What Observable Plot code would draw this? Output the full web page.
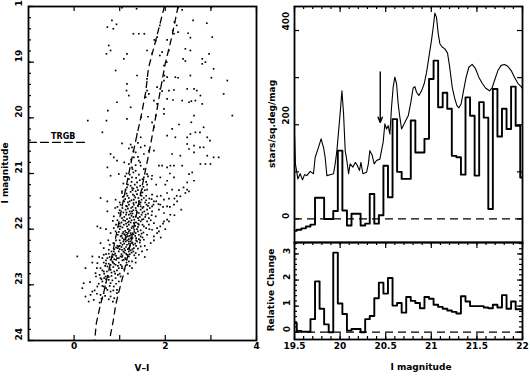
<!DOCTYPE html>
<html><head><meta charset="utf-8">
<script src="https://cdn.jsdelivr.net/npm/d3@7"></script>
<script src="https://cdn.jsdelivr.net/npm/@observablehq/plot@0.6"></script>
<style>
html,body{margin:0;padding:0;background:#fff;}
#chart{position:relative;width:530px;height:376px;overflow:hidden;background:#fff;}
#chart svg{position:absolute;}
</style></head><body><div id="chart"></div>
<script>
// ---------- Left panel: colour-magnitude diagram (V-I, I) ----------
const stars = [
[1.05,18.02],[1.37,18.04],[2.28,18.02],[2.37,18.06],[3.01,18.02],[0.83,18.25],[0.93,18.32],[0.86,18.40],[0.73,18.37],[2.20,18.28],[2.25,18.34],[2.17,18.43],[2.61,18.25],[2.91,18.30],[1.88,18.34],[1.82,18.55],[1.30,18.49],[1.42,18.49],[1.54,18.49],[1.76,18.60],[1.79,18.62],[2.19,18.49],[2.28,18.46],[2.50,18.48],[2.55,18.56],[3.03,18.55],[2.04,18.60],[0.76,18.70],[0.71,18.85],[0.80,18.79],[1.60,18.79],[1.71,18.84],[1.88,18.88],[1.93,18.82],[2.08,18.79],[2.03,19.00],[1.97,19.06],[1.16,18.85],[1.09,18.94],[2.44,18.76],[2.55,18.79],[2.39,18.94],[2.44,18.98],[2.81,18.94],[2.88,19.00],[2.96,18.85],[3.06,19.12],[2.81,19.03],[0.91,19.15],[1.38,19.24],[1.60,19.30],[1.82,19.45],[1.98,19.24],[2.04,19.27],[1.97,19.33],[2.22,19.27],[2.28,19.28],[2.55,19.24],[3.01,19.28],[3.36,19.33],[1.16,19.39],[1.15,19.51],[1.60,19.51],[1.64,19.57],[1.89,19.48],[1.93,19.52],[2.08,19.51],[2.19,19.50],[2.48,19.48],[2.63,19.48],[2.69,19.51],[3.28,19.57],[1.20,19.60],[1.57,19.63],[1.75,19.69],[1.82,19.75],[2.04,19.66],[2.17,19.68],[2.37,19.69],[2.52,19.72],[2.57,19.70],[2.66,19.69],[2.77,19.60],[2.81,19.75],[0.74,19.87],[0.94,19.72],[1.24,19.81],[1.97,19.84],[0.30,20.05],[0.71,20.05],[1.16,20.02],[1.47,19.99],[1.62,19.98],[1.79,19.96],[1.71,20.08],[1.75,20.17],[1.97,19.93],[2.15,20.20],[2.30,20.12],[2.57,20.08],[2.63,19.96],[3.47,19.96],[2.84,20.17],[0.62,20.26],[1.05,20.46],[1.24,20.48],[1.38,20.29],[1.46,20.35],[2.04,20.32],[2.22,20.35],[2.48,20.35],[2.55,20.29],[2.66,20.26],[2.76,20.26],[2.92,20.35],[2.98,20.41],[2.48,20.47],[2.63,20.50],[0.80,20.65],[0.87,20.71],[1.27,20.53],[1.35,20.62],[1.46,20.53],[1.53,20.65],[1.64,20.59],[1.75,20.59],[2.15,20.65],[2.33,20.68],[2.52,20.56],[2.63,20.62],[2.76,20.53],[2.84,20.53],[2.92,20.68],[3.06,20.71],[3.17,20.71],[0.94,20.77],[1.31,20.71],[1.42,20.77],[0.73,20.89],[0.80,21.04],[0.98,21.01],[1.20,20.83],[1.27,20.89],[1.35,20.95],[1.46,20.86],[1.53,20.92],[1.60,21.01],[1.86,20.86],[1.93,20.86],[2.04,20.89],[2.11,20.86],[2.19,20.86],[2.37,20.86],[2.52,21.01],[2.59,20.98],[2.77,20.83],[2.88,20.83],[2.99,20.83],[1.27,21.07],[1.38,21.16],[1.53,21.07],[1.71,21.04],[1.89,21.07],[2.04,21.13],[2.19,21.07],[2.48,21.16],[2.63,21.13],[1.24,21.22],[1.38,21.25],[1.49,21.28],
[1.20,20.55],[1.30,20.60],[1.40,20.70],[1.45,20.80],[1.25,20.75],[1.35,20.85],[1.30,20.98],[1.42,21.02],[1.50,21.10],[1.20,21.10],[1.33,21.20],[1.45,21.22],[1.55,20.50],[1.40,20.45],[1.28,20.92],[1.15,21.00],[1.10,20.80],
[1.13,21.29],[1.27,21.26],[1.35,21.32],[1.46,21.35],[1.60,21.29],[1.71,21.38],[1.09,21.41],[1.20,21.44],[1.31,21.47],[1.42,21.50],[1.53,21.44],[1.64,21.53],[1.82,21.41],[1.97,21.47],[2.04,21.35],[2.15,21.29],[2.33,21.41],[2.44,21.35],[2.52,21.32],[2.48,21.29],[0.58,21.44],[0.73,21.50],[0.91,21.47],[1.02,21.56],[1.16,21.59],[1.31,21.56],[1.46,21.59],[1.59,21.56],[1.71,21.59],[1.89,21.56],[2.04,21.59],[2.19,21.56],[2.26,21.50],[0.73,21.68],[0.87,21.77],[0.98,21.71],[1.05,21.80],[1.13,21.65],[1.20,21.74],[1.27,21.68],[1.35,21.77],[1.42,21.71],[1.49,21.83],[1.57,21.74],[1.64,21.80],[1.71,21.68],[1.79,21.77],[1.86,21.65],[1.97,21.71],[2.11,21.74],[2.04,21.83],[1.75,21.89],[1.82,21.98],[1.89,21.95],[1.64,21.92],[1.53,21.95],[1.42,21.92],[1.31,21.89],[1.20,21.86],[1.09,21.92],[0.98,21.95],[0.87,21.98],[0.51,21.95],[0.58,21.98],[1.71,22.01],[1.86,22.04],[1.97,21.86],[2.08,21.86],[0.80,22.07],[0.91,22.04],[1.02,22.13],[1.09,22.19],[1.13,22.22],[1.16,22.10],[1.24,22.16],[1.27,22.25],[1.35,22.07],[1.38,22.22],[1.46,22.13],[1.53,22.19],[1.60,22.10],[1.68,22.25],[1.75,22.13],[1.82,22.07],[1.16,22.28],[1.31,22.34],[1.46,22.31],[1.60,22.37],[0.58,22.25],[0.65,22.34],[0.76,22.37],[0.87,22.40],[0.98,22.31],[1.05,22.37],[1.20,22.40],[1.35,22.43],[1.49,22.40],[1.20,22.22],[1.13,22.16],[0.07,22.49],[0.40,22.49],[0.51,22.61],[0.65,22.46],[0.73,22.52],[0.80,22.55],[0.87,22.46],[0.94,22.52],[1.02,22.49],[1.09,22.55],[1.20,22.49],[1.27,22.58],[1.35,22.52],[1.42,22.46],[0.58,22.70],[0.65,22.76],[0.73,22.67],[0.80,22.73],[0.91,22.64],[0.98,22.70],[1.05,22.67],[1.16,22.64],[1.27,22.70],[0.25,22.70],[0.47,22.79],[0.58,22.88],[0.62,22.94],[0.69,22.85],[0.76,22.91],[0.80,22.97],[0.87,23.03],[0.91,22.88],[0.98,22.94],[1.02,22.85],[0.65,23.03],[0.51,23.03],[0.21,22.97],[0.18,23.06],[0.73,23.09],[0.80,23.12],[0.94,23.09],[0.25,23.21],[0.32,23.30],[0.58,23.18],[0.65,23.15],[0.80,23.21],[0.94,23.15],[0.43,23.27],
[1.10,21.50],[1.18,21.52],[1.25,21.62],[1.35,21.62],[1.40,21.80],[1.22,21.80],[1.12,21.85],[1.28,21.95],[1.38,22.00],[1.18,22.00],[1.08,22.05],[1.25,22.10],[1.30,22.28],[1.40,22.35],[1.10,22.35],[1.22,22.45],[1.15,22.60],[1.05,22.50],[0.95,22.30],[1.00,22.20],[1.45,22.20],[1.55,22.30],[1.50,21.70],[1.60,21.65],[1.70,21.75],[1.65,21.45],[1.75,21.50],[1.85,21.55],[1.95,21.60],[2.10,21.60],[2.20,21.45],[2.30,21.30],[2.40,21.25],[1.55,21.30],[1.05,21.35],[0.95,21.60],[0.85,21.85],[0.70,22.00],[0.75,22.20],[0.65,22.60],[0.55,22.50],[0.85,22.60],[1.00,22.80],[0.90,22.80],[0.70,22.90],[0.45,23.10],[0.60,23.25],[0.40,22.60],[0.35,22.95],[0.85,23.30],[1.55,22.50],[1.65,22.00],[1.75,22.20],[1.90,22.15],[2.00,22.00],[1.95,21.90],[2.20,21.75],[2.35,21.65],[1.02,21.95],[1.15,21.70],[1.32,21.40],[1.48,21.40],[1.28,21.30],[1.18,21.20],[1.60,21.20],[1.70,21.10],[1.80,21.20],[2.00,21.20],[2.10,21.00],[1.05,22.70],[1.12,22.38],[1.35,22.60],[1.18,22.80],
[1.12,21.05],[1.22,21.02],[1.36,21.08],[1.44,21.12],[1.58,21.15],[1.26,21.15],[1.16,21.25],[1.30,21.27],[1.52,21.24],[1.40,21.30],[1.62,21.05],[1.08,21.18],
[1.05,21.32],[1.15,21.36],[1.24,21.33],[1.38,21.37],[1.50,21.34],[1.58,21.40],[1.12,21.46],[1.26,21.48],[1.36,21.52],[1.48,21.47],[1.56,21.52],[1.70,21.46],[1.80,21.50],[1.90,21.40],[2.08,21.45],[2.25,21.40],[1.00,21.52],[1.20,21.56],[1.40,21.58],[1.52,21.60],[1.62,21.58],[1.34,21.43],[1.44,21.55],[1.74,21.56],
[0.90,21.62],[1.00,21.66],[1.08,21.70],[1.18,21.63],[1.24,21.72],[1.30,21.66],[1.38,21.70],[1.46,21.65],[1.54,21.68],[1.62,21.72],[1.10,21.78],[1.16,21.82],[1.26,21.76],[1.32,21.83],[1.44,21.78],[1.52,21.82],[1.60,21.86],[1.68,21.84],[0.95,21.84],[1.04,21.88],[1.14,21.90],[1.24,21.88],[1.36,21.88],[1.46,21.86],[1.28,21.72],
[0.92,21.92],[1.00,22.00],[1.06,21.97],[1.12,22.03],[1.16,21.95],[1.22,22.02],[1.26,21.98],[1.32,22.05],[1.40,21.96],[1.46,22.02],[1.52,22.06],[1.58,21.98],[0.96,22.10],[1.04,22.12],[1.10,22.09],[1.14,22.14],[1.18,22.07],[1.22,22.12],[1.28,22.16],[1.34,22.12],[1.42,22.10],[1.50,22.15],[1.20,22.18],[1.12,22.18],[1.08,22.22],[1.16,22.20],[1.24,22.22],[1.36,22.20],[1.44,22.24],[1.02,22.25],[1.18,22.13],[1.14,22.06],
[0.78,22.28],[0.86,22.25],[0.92,22.33],[1.00,22.30],[1.06,22.28],[1.14,22.32],[1.22,22.30],[1.28,22.36],[1.36,22.30],[0.82,22.40],[0.90,22.44],[0.98,22.40],[1.04,22.45],[1.10,22.42],[1.16,22.46],[1.26,22.42],[1.32,22.47],[0.70,22.45],[1.00,22.36],[1.18,22.36],
[0.62,22.52],[0.70,22.56],[0.78,22.50],[0.84,22.58],[0.92,22.55],[0.98,22.60],[1.06,22.56],[1.12,22.52],[1.20,22.58],[0.68,22.66],[0.76,22.62],[0.86,22.68],[0.94,22.74],[1.02,22.64],[1.10,22.72],[0.72,22.76],[0.82,22.78],[0.50,22.70],[1.22,22.66],
[0.48,22.85],[0.56,22.82],[0.66,22.88],[0.74,22.84],[0.84,22.92],[0.92,22.98],[0.54,22.98],[0.62,23.02],[0.70,23.06],[0.78,23.02],[0.86,23.10],[0.40,23.12],[0.50,23.16],[0.68,23.20],[0.76,23.26],[0.56,23.32],[0.88,23.24],[0.36,23.18],
[1.07,21.42],[1.17,21.40],[1.29,21.38],[1.41,21.44],[1.22,21.50],[1.30,21.53],[1.46,21.52],[1.14,21.58],[1.28,21.60],[1.36,21.66],[1.50,21.62],[1.06,21.62],[1.22,21.68],[1.66,21.62],[1.58,21.48],
[1.02,21.74],[1.14,21.74],[1.20,21.92],[1.30,21.78],[1.34,21.94],[1.42,21.84],[1.48,21.74],[1.56,21.78],[1.08,21.84],[1.18,21.88],[1.26,21.84],[1.40,21.90],[1.50,21.92],[1.00,21.90],
[0.98,22.05],[1.06,22.08],[1.12,22.11],[1.20,22.04],[1.24,22.07],[1.30,22.09],[1.36,22.16],[1.40,22.04],[1.48,22.08],[1.10,22.26],[1.20,22.26],[1.28,22.24],[1.34,22.26],[0.92,22.20],[1.06,22.16],[1.26,22.19],[1.32,22.01],[1.42,22.18],
[0.88,22.36],[0.96,22.34],[1.04,22.32],[1.08,22.40],[1.14,22.44],[1.20,22.34],[1.24,22.38],[0.84,22.50],[0.92,22.48],[0.98,22.52],[1.06,22.48],[1.14,22.54],[0.76,22.44],[0.88,22.54],[1.30,22.40],
[0.70,22.62],[0.80,22.64],[0.88,22.62],[0.96,22.66],[0.62,22.74],[0.78,22.70],[0.88,22.76],[0.66,22.80],[0.76,22.86],[0.60,22.90],[0.70,22.96],[0.82,22.84],[0.96,22.82]
];
// two dashed ridge lines [V-I, I]
const ridgeBlue = [[1.98,18.0],[1.79,18.61],[1.63,19.11],[1.57,19.54],[1.46,20.01],[1.38,20.30],[1.25,20.8],[1.10,21.4],[0.95,22.0],[0.80,22.6],[0.66,23.1],[0.56,23.42],[0.49,23.68],[0.45,24.0]];
const ridgeRed = [[2.28,18.0],[2.15,18.52],[2.00,19.02],[1.89,19.51],[1.79,19.98],[1.65,20.6],[1.50,21.2],[1.35,21.8],[1.20,22.4],[1.07,22.85],[0.97,23.16],[0.91,23.37],[0.86,23.64],[0.80,23.89],[0.78,24.0]];
const trgbMag = 20.44;
const trgbLine = [[-1, trgbMag], [0.27, trgbMag]];
const trgbLabel = [{vi: -0.24, mag: 20.33, text: "TRGB"}];
const cmdYTicks = [18, 19, 20, 21, 22, 23, 24];
const cmdXTicks = [0, 2, 4];
const cmdXMinor = [0, 1, 2, 3, 4];

// ---------- Right panels: luminosity function ----------
const binI = [19.50,19.55,19.60,19.65,19.70,19.75,19.80,19.85,19.90,19.95,20.00,20.05,20.10,20.15,20.20,20.25,20.30,20.35,20.40,20.45,20.50,20.55,20.60,20.65,20.70,20.75,20.80,20.85,20.90,20.95,21.00,21.05,21.10,21.15,21.20,21.25,21.30,21.35,21.40,21.45,21.50,21.55,21.60,21.65,21.70,21.75,21.80,21.85,21.90,21.95,22.00];
const lfHist = [-25,-23,-20,-16,-12,45,45,0,0,17,145,18,-14,11,11,-14,-10,53,-10,8,113,46,212,100,85,85,209,141,141,170,297,336,237,268,234,134,131,94,258,219,92,248,215,21,276,175,234,191,281,198,88];
const lfSmoothI = [19.500,19.510,19.537,19.562,19.588,19.610,19.635,19.672,19.708,19.727,19.763,19.792,19.818,19.836,19.855,19.891,19.928,19.946,19.965,20.000,20.020,20.038,20.056,20.074,20.093,20.110,20.140,20.166,20.184,20.213,20.228,20.250,20.290,20.310,20.326,20.352,20.374,20.399,20.436,20.472,20.491,20.509,20.527,20.546,20.564,20.582,20.600,20.619,20.637,20.655,20.674,20.703,20.728,20.747,20.776,20.801,20.820,20.838,20.864,20.893,20.922,20.948,20.973,21.002,21.021,21.039,21.057,21.076,21.094,21.119,21.149,21.178,21.200,21.229,21.254,21.280,21.302,21.327,21.353,21.382,21.412,21.448,21.485,21.521,21.558,21.594,21.638,21.667,21.693,21.730,21.766,21.803,21.839,21.876,21.912,21.949,21.985,22.000];
const lfSmoothV = [180,117,85,96,83,94,92,101,96,131,152,170,152,131,92,94,96,117,145,223,272,223,145,124,96,117,110,120,115,103,120,96,99,117,145,135,117,124,127,163,202,191,198,180,237,280,301,287,244,216,191,202,212,219,248,278,281,269,262,272,287,311,343,379,407,437,428,393,372,365,361,352,325,280,258,241,236,244,272,301,322,328,319,301,288,278,272,278,294,315,326,328,324,315,301,288,281,277];
const relChange = [0.35,0.05,0.02,0.02,0.5,1.95,0.9,0.3,0,3.05,1.1,0.7,0.06,0.12,0.12,0,0.5,0.62,1.3,1.9,1.48,2.08,1.02,1.12,0.75,1.35,1.2,1.12,0.92,1.35,1.28,1.05,0.97,0.9,0.83,0.78,0.72,1.38,1.18,1.0,1.0,1.0,0.95,0.92,1.05,0.95,1.42,0.9,1.18,0.88,0.88];
const trgbArrow = [{I: 20.44, from: 312, to: 205}];
const lfXTicks = [19.5, 20, 20.5, 21, 21.5, 22];
const lfXLabels = ["19.5", "20", "20.5", "21", "21.5", "22"];
const lfYTicks = [0, 200, 400];
const relYTicks = [0, 1, 2, 3];
const titles = {cmdX: "V\u2013I", cmdY: "I magnitude", lfY: "stars/sq.deg/mag", relY: "Relative Change", lfX: "I magnitude"};

// ---------- drawing helpers ----------
const FONT = "'DejaVu Sans', sans-serif";
const style = {fontFamily: FONT, fontSize: "9px", fontWeight: "bold", background: "transparent", color: "black", overflow: "visible"};
function tX(values, frameH, len, side) {
  return Plot.tickX(values, {x: d => d, stroke: "black", strokeWidth: 1.2,
    insetTop: side === "bottom" ? frameH - len : 0, insetBottom: side === "top" ? frameH - len : 0});
}
function tY(values, frameW, len, side) {
  return Plot.tickY(values, {y: d => d, stroke: "black", strokeWidth: 1.2,
    insetRight: side === "left" ? frameW - len : 0, insetLeft: side === "right" ? frameW - len : 0});
}
const step = (a, b, s) => d3.range(Math.round((b - a) / s) + 1).map(k => +(a + k * s).toFixed(3));

const chart = document.getElementById("chart");
function place(svg, left, top) { svg.style.left = left + "px"; svg.style.top = top + "px"; chart.appendChild(svg); }
function title(svg, x, y, text, rotate = 0) {
  d3.select(svg).append("text")
    .attr("transform", `translate(${x},${y}) rotate(${rotate})`)
    .attr("text-anchor", "middle").attr("dy", "0.35em")
    .attr("font-family", FONT).attr("font-size", 9).attr("font-weight", "bold").attr("fill", "black")
    .text(text);
}

// Left panel
const cmd = Plot.plot({
  width: 262, height: 376, marginLeft: 28, marginRight: 6, marginTop: 6, marginBottom: 36,
  style,
  x: {domain: [-1, 4], axis: null},
  y: {domain: [18, 24], reverse: true, axis: null},
  marks: [
    Plot.dot(stars, {x: d => d[0], y: d => d[1], r: 0.95, symbol: "square", fill: "black", stroke: null, clip: true}),
    Plot.line(ridgeBlue, {x: d => d[0], y: d => d[1], stroke: "black", strokeWidth: 1.3, strokeDasharray: "6,5", clip: true}),
    Plot.line(ridgeRed, {x: d => d[0], y: d => d[1], stroke: "black", strokeWidth: 1.3, strokeDasharray: "6,5", clip: true}),
    Plot.line(trgbLine, {x: d => d[0], y: d => d[1], stroke: "black", strokeWidth: 1.3, strokeDasharray: "8,4"}),
    Plot.text(trgbLabel, {x: "vi", y: "mag", text: "text", fontSize: 8}),
    tY(step(18, 24, 0.2), 228, 3, "left"),
    tY(cmdYTicks, 228, 6, "left"),
    tX(cmdXMinor, 334, 5, "bottom"),
    tX(cmdXMinor, 334, 5, "top"),
    Plot.frame({stroke: "black", strokeWidth: 1.8}),
    Plot.text(cmdYTicks, {y: d => d, text: d => String(d), frameAnchor: "left", dx: -9, rotate: -90}),
    Plot.text(cmdXTicks, {x: d => d, text: d => String(d), frameAnchor: "bottom", dy: 8})
  ]
});
title(cmd, 142, 368, titles.cmdX);
title(cmd, 5, 173, titles.cmdY, -90);
place(cmd, 0, 0);

// Upper right panel
const lf = Plot.plot({
  width: 265, height: 250, marginLeft: 29, marginRight: 8, marginTop: 6, marginBottom: 8,
  style,
  x: {domain: [19.5, 22], axis: null},
  y: {domain: [-50, 451], axis: null},
  marks: [
    Plot.ruleY([0], {stroke: "black", strokeWidth: 1.2, strokeDasharray: "8,5"}),
    Plot.line(lfSmoothI, {x: d => d, y: (d, i) => lfSmoothV[i], stroke: "black", strokeWidth: 1.1, clip: true}),
    Plot.line(lfHist, {x: (d, i) => binI[i], y: d => d, curve: "step", stroke: "black", strokeWidth: 1.9, clip: true}),
    Plot.arrow(trgbArrow, {x1: "I", x2: "I", y1: "from", y2: "to", stroke: "black", strokeWidth: 1.4, headLength: 6, headAngle: 45}),
    tX(step(19.5, 22, 0.1), 236, 3, "top"),
    tX(lfXTicks, 236, 6, "top"),
    tY([0, 100, 200, 300, 400], 228, 5, "left"),
    tY([0, 100, 200, 300, 400], 228, 5, "right"),
    Plot.frame({stroke: "black", strokeWidth: 1.8}),
    Plot.text(lfYTicks, {y: d => d, text: d => String(d), frameAnchor: "left", dx: -8, rotate: -90})
  ]
});
title(lf, 7, 124, titles.lfY, -90);
place(lf, 265, 0);

// Lower right panel
const rel = Plot.plot({
  width: 265, height: 140, marginLeft: 29, marginRight: 8, marginTop: 6, marginBottom: 37,
  style,
  x: {domain: [19.5, 22], axis: null},
  y: {domain: [-0.28, 3.44], axis: null},
  marks: [
    Plot.ruleY([0], {stroke: "black", strokeWidth: 1.2, strokeDasharray: "8,5"}),
    Plot.line(relChange, {x: (d, i) => binI[i], y: d => d, curve: "step", stroke: "black", strokeWidth: 1.9, clip: true}),
    tX(step(19.5, 22, 0.1), 97, 3, "top"),
    tX(lfXTicks, 97, 6, "top"),
    tX(step(19.5, 22, 0.1), 97, 3, "bottom"),
    tX(lfXTicks, 97, 6, "bottom"),
    tY(step(0, 3.4, 0.2), 228, 3, "left"),
    tY(relYTicks, 228, 5, "left"),
    tY(step(0, 3.4, 0.2), 228, 3, "right"),
    tY(relYTicks, 228, 5, "right"),
    Plot.frame({stroke: "black", strokeWidth: 1.8}),
    Plot.text(relYTicks, {y: d => d, text: d => String(d), frameAnchor: "left", dx: -7, rotate: -90}),
    Plot.text(lfXTicks, {x: d => d, text: (d, i) => lfXLabels[i], frameAnchor: "bottom", dy: 9})
  ]
});
title(rel, 6, 54, titles.relY, -90);
title(rel, 156, 131, titles.lfX);
place(rel, 265, 236);
</script></body></html>
